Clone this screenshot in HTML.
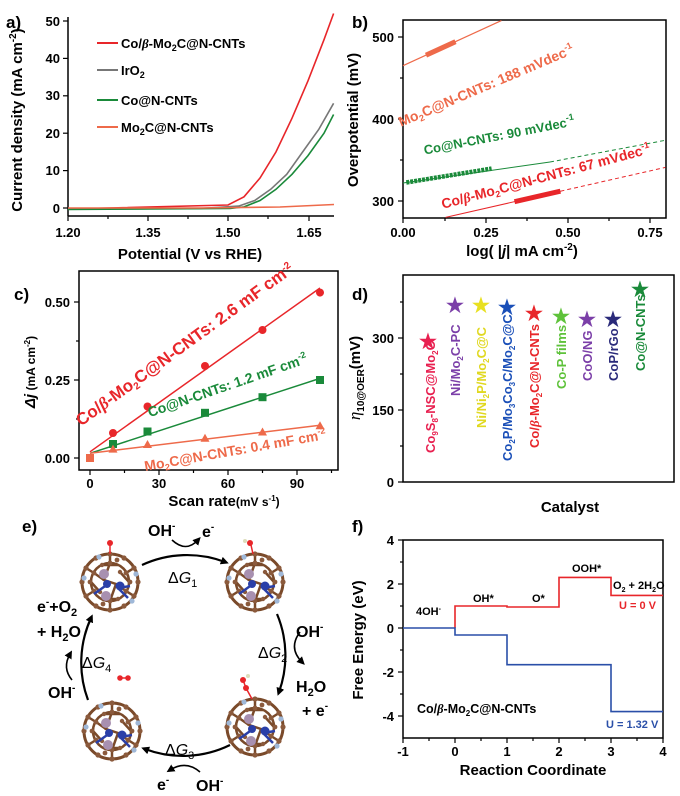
<!DOCTYPE html>
<html><head><meta charset="utf-8"><style>
html,body{margin:0;padding:0;background:#fff}
svg{display:block}
text{font-family:"Liberation Sans",sans-serif;font-weight:bold}
</style></head><body>
<svg width="680" height="796" viewBox="0 0 680 796" xmlns="http://www.w3.org/2000/svg">
<defs>
<g id="mol">
<circle r="28" fill="none" stroke="#7a4a2a" stroke-width="3"/>
<circle r="19" fill="none" stroke="#7a4a2a" stroke-width="2.5"/>
<path d="M0,-28 L0,-19 M24,-14 L16,-9 M24,14 L16,9 M0,28 L0,19 M-24,14 L-16,9 M-24,-14 L-16,-9 M-16,-9 L-6,-2 M16,9 L6,2 M0,-19 L-6,-2 L6,2 L0,19 M-19,0 L-10,10 M19,0 L10,-10 M-8,-17 L8,-17 M-8,17 L8,17" stroke="#7a4a2a" stroke-width="2.5" fill="none"/>
<g fill="#8b5a3c">
<circle cx="0" cy="-28" r="2.6"/><circle cx="14" cy="-24" r="2.6"/><circle cx="24" cy="-14" r="2.6"/><circle cx="28" cy="0" r="2.6"/><circle cx="24" cy="14" r="2.6"/><circle cx="14" cy="24" r="2.6"/><circle cx="0" cy="28" r="2.6"/><circle cx="-14" cy="24" r="2.6"/><circle cx="-24" cy="14" r="2.6"/><circle cx="-28" cy="0" r="2.6"/><circle cx="-24" cy="-14" r="2.6"/><circle cx="-14" cy="-24" r="2.6"/>
<circle cx="0" cy="-19" r="2.4"/><circle cx="16" cy="-9" r="2.4"/><circle cx="16" cy="9" r="2.4"/><circle cx="0" cy="19" r="2.4"/><circle cx="-16" cy="9" r="2.4"/><circle cx="-16" cy="-9" r="2.4"/>
<circle cx="7" cy="-22" r="2.4"/><circle cx="-7" cy="22" r="2.4"/><circle cx="20" cy="0" r="2.4"/><circle cx="-20" cy="0" r="2.4"/>
<circle cx="-10" cy="10" r="2.2"/><circle cx="10" cy="-10" r="2.2"/><circle cx="8" cy="17" r="2.2"/><circle cx="-8" cy="-17" r="2.2"/>
</g>
<g fill="#9fb8d8"><circle cx="-11" cy="-25" r="2.6"/><circle cx="26" cy="-8" r="2.6"/><circle cx="22" cy="19" r="2.6"/><circle cx="-26" cy="-4" r="2.6"/></g>
<path d="M-2,2 L-16,12 M8,6 L18,16 M8,6 L20,4" stroke="#2a3fa8" stroke-width="2.5"/>
<circle cx="-6" cy="-8" r="5" fill="#a890b0"/><circle cx="-4" cy="14" r="5" fill="#a890b0"/>
<circle cx="10" cy="4" r="4.5" fill="#2a3fa8"/><circle cx="-3" cy="2" r="4" fill="#2a3fa8"/>
</g>
<marker id="ah" markerWidth="8" markerHeight="8" refX="4" refY="4" orient="auto" markerUnits="userSpaceOnUse"><path d="M0,0 L8,4 L0,8 z" fill="#000"/></marker>
</defs>

<!-- ===== Panel a ===== -->
<text x="6" y="28" font-size="17">a)</text>
<line x1="68" y1="17" x2="68" y2="216" stroke="#000" stroke-width="1.5"/>
<line x1="68" y1="216" x2="334" y2="216" stroke="#000" stroke-width="1.5"/>
<g stroke="#000" stroke-width="1.2">
<line x1="63" y1="21" x2="68" y2="21"/><line x1="63" y1="58.4" x2="68" y2="58.4"/><line x1="63" y1="95.8" x2="68" y2="95.8"/><line x1="63" y1="133.2" x2="68" y2="133.2"/><line x1="63" y1="170.6" x2="68" y2="170.6"/><line x1="63" y1="208" x2="68" y2="208"/>
<line x1="68" y1="216" x2="68" y2="221"/><line x1="108" y1="216" x2="108" y2="219"/><line x1="148" y1="216" x2="148" y2="221"/><line x1="188" y1="216" x2="188" y2="219"/><line x1="228" y1="216" x2="228" y2="221"/><line x1="268" y1="216" x2="268" y2="219"/><line x1="309" y1="216" x2="309" y2="221"/>
</g>
<g font-size="13" text-anchor="end">
<text x="60" y="26">50</text><text x="60" y="63">40</text><text x="60" y="100">30</text><text x="60" y="138">20</text><text x="60" y="175">10</text><text x="60" y="213">0</text>
</g>
<g font-size="13" text-anchor="middle">
<text x="68" y="237">1.20</text><text x="148" y="237">1.35</text><text x="228" y="237">1.50</text><text x="309" y="237">1.65</text>
</g>
<text x="190" y="259" font-size="15" text-anchor="middle">Potential (V vs RHE)</text>
<text transform="translate(22,120) rotate(-90)" font-size="15" text-anchor="middle">Current density (mA cm<tspan font-size="10" dy="-6">-2</tspan><tspan dy="6">)</tspan></text>
<path d="M68,209 L228,205 L244,196.8 L260,178 L276,151.9 L292,118.2 L308,80.8 L324,39.7 L333.6,13.5" fill="none" stroke="#e8262a" stroke-width="1.6"/>
<path d="M68,209 L200,208.5 L238.7,206.1 L254.7,200.5 L270.7,189.3 L286.7,174.3 L302.7,151.9 L318.7,129.5 L333.6,103.3" fill="none" stroke="#777" stroke-width="1.6"/>
<path d="M68,209.5 L230,208.5 L244,206.9 L260,200.5 L276,189.3 L292,174.3 L308,155.6 L324,133.2 L333.6,114.5" fill="none" stroke="#1a8a3a" stroke-width="1.6"/>
<path d="M68,208 L200,208 L280,207 L334,204.5" fill="none" stroke="#ee6a4a" stroke-width="1.6"/>
<line x1="97" y1="43" x2="118" y2="43" stroke="#e8262a" stroke-width="2"/>
<line x1="97" y1="70" x2="118" y2="70" stroke="#777" stroke-width="2"/>
<line x1="97" y1="100" x2="118" y2="100" stroke="#1a8a3a" stroke-width="2"/>
<line x1="97" y1="127" x2="118" y2="127" stroke="#ee6a4a" stroke-width="2"/>
<g font-size="13">
<text x="121" y="48">Co/<tspan font-style="italic" font-family="Liberation Serif,serif">β</tspan>-Mo<tspan font-size="9" dy="3">2</tspan><tspan dy="-3">C@N-CNTs</tspan></text>
<text x="121" y="75">IrO<tspan font-size="9" dy="3">2</tspan></text>
<text x="121" y="105">Co@N-CNTs</text>
<text x="121" y="132">Mo<tspan font-size="9" dy="3">2</tspan><tspan dy="-3">C@N-CNTs</tspan></text>
</g>

<!-- ===== Panel b ===== -->
<text x="352" y="28" font-size="17">b)</text>
<rect x="403" y="20" width="263" height="198" fill="none" stroke="#000" stroke-width="1.5"/>
<g stroke="#000" stroke-width="1.2">
<line x1="398" y1="37" x2="403" y2="37"/><line x1="400" y1="78" x2="403" y2="78"/><line x1="398" y1="119" x2="403" y2="119"/><line x1="400" y1="160" x2="403" y2="160"/><line x1="398" y1="201" x2="403" y2="201"/>
<line x1="403" y1="218" x2="403" y2="223"/><line x1="445" y1="218" x2="445" y2="221"/><line x1="486" y1="218" x2="486" y2="223"/><line x1="527" y1="218" x2="527" y2="221"/><line x1="568" y1="218" x2="568" y2="223"/><line x1="609" y1="218" x2="609" y2="221"/><line x1="650" y1="218" x2="650" y2="223"/>
</g>
<g font-size="13" text-anchor="end"><text x="394" y="42">500</text><text x="394" y="124">400</text><text x="394" y="206">300</text></g>
<g font-size="13" text-anchor="middle"><text x="403" y="237">0.00</text><text x="486" y="237">0.25</text><text x="568" y="237">0.50</text><text x="650" y="237">0.75</text></g>
<text x="522" y="256" font-size="15" text-anchor="middle">log( |<tspan font-style="italic">j</tspan>| mA cm<tspan font-size="10" dy="-6">-2</tspan><tspan dy="6">)</tspan></text>
<text transform="translate(358,120) rotate(-90)" font-size="15" text-anchor="middle">Overpotential (mV)</text>
<line x1="403" y1="65.7" x2="501.4" y2="20.6" stroke="#ee6a4a" stroke-width="1.2"/>
<line x1="426" y1="55.2" x2="455.5" y2="41.7" stroke="#ee6a4a" stroke-width="5"/>
<line x1="403" y1="183" x2="550" y2="162" stroke="#1a8a3a" stroke-width="1"/>
<line x1="550" y1="162" x2="665.4" y2="140.3" stroke="#1a8a3a" stroke-width="1" stroke-dasharray="4,3"/>
<line x1="406.3" y1="182.5" x2="491.6" y2="168.6" stroke="#1a8a3a" stroke-width="4.5" stroke-dasharray="3,1"/>
<line x1="445.6" y1="217.4" x2="560.4" y2="191.2" stroke="#e8262a" stroke-width="1"/>
<line x1="560.4" y1="191.2" x2="665.4" y2="167.4" stroke="#e8262a" stroke-width="1" stroke-dasharray="4,3"/>
<line x1="514.5" y1="201.7" x2="560.4" y2="191.2" stroke="#e8262a" stroke-width="5"/>
<text transform="translate(488,90) rotate(-23)" font-size="14" fill="#ee6a4a" text-anchor="middle">Mo<tspan font-size="9" dy="3">2</tspan><tspan dy="-3">C@N-CNTs: 188 mVdec</tspan><tspan font-size="9" dy="-6">-1</tspan></text>
<text transform="translate(500,140) rotate(-11)" font-size="13" fill="#1a8a3a" text-anchor="middle">Co@N-CNTs: 90 mVdec<tspan font-size="9" dy="-6">-1</tspan></text>
<text transform="translate(547,181) rotate(-15)" font-size="14" fill="#e8262a" text-anchor="middle">Co/<tspan font-style="italic" font-family="Liberation Serif,serif">β</tspan>-Mo<tspan font-size="9" dy="3">2</tspan><tspan dy="-3">C@N-CNTs: 67 mVdec</tspan><tspan font-size="9" dy="-6">-1</tspan></text>

<!-- ===== Panel c ===== -->
<text x="14" y="300" font-size="17">c)</text>
<rect x="79" y="271" width="259" height="199" fill="none" stroke="#000" stroke-width="1.5"/>
<g stroke="#000" stroke-width="1.2">
<line x1="74" y1="302" x2="79" y2="302"/><line x1="76" y1="341" x2="79" y2="341"/><line x1="74" y1="380" x2="79" y2="380"/><line x1="76" y1="419" x2="79" y2="419"/><line x1="74" y1="458" x2="79" y2="458"/>
<line x1="90" y1="470" x2="90" y2="475"/><line x1="124.5" y1="470" x2="124.5" y2="473"/><line x1="159" y1="470" x2="159" y2="475"/><line x1="193.5" y1="470" x2="193.5" y2="473"/><line x1="228" y1="470" x2="228" y2="475"/><line x1="262.5" y1="470" x2="262.5" y2="473"/><line x1="297" y1="470" x2="297" y2="475"/><line x1="331.5" y1="470" x2="331.5" y2="473"/>
</g>
<g font-size="13" text-anchor="end"><text x="70" y="307">0.50</text><text x="70" y="385">0.25</text><text x="70" y="463">0.00</text></g>
<g font-size="13" text-anchor="middle"><text x="90" y="488">0</text><text x="159" y="488">30</text><text x="228" y="488">60</text><text x="297" y="488">90</text></g>
<text x="224" y="506" font-size="15" text-anchor="middle">Scan rate<tspan font-size="12">(mV s<tspan font-size="8" dy="-5">-1</tspan><tspan dy="5">)</tspan></tspan></text>
<text transform="translate(35,372) rotate(-90)" font-size="15" text-anchor="middle"><tspan font-style="italic">Δj</tspan><tspan font-size="12"> (mA cm<tspan font-size="8" dy="-5">-2</tspan><tspan dy="5">)</tspan></tspan></text>
<line x1="90" y1="451.8" x2="320" y2="288" stroke="#e8262a" stroke-width="1.5"/>
<line x1="90" y1="453.3" x2="320" y2="378.4" stroke="#1a8a3a" stroke-width="1.5"/>
<line x1="90" y1="453.3" x2="320" y2="425.2" stroke="#ee6a4a" stroke-width="1.5"/>
<g fill="#e8262a"><circle cx="113" cy="433" r="4"/><circle cx="147.5" cy="406.5" r="4"/><circle cx="205" cy="366" r="4"/><circle cx="262.5" cy="330" r="4"/><circle cx="320" cy="292.6" r="4"/></g>
<g fill="#1a8a3a"><rect x="109" y="440" width="8" height="8"/><rect x="143.5" y="427.5" width="8" height="8"/><rect x="201" y="408.8" width="8" height="8"/><rect x="258.5" y="393.2" width="8" height="8"/><rect x="316" y="376" width="8" height="8"/></g>
<g fill="#ee6a4a"><rect x="86" y="454" width="8" height="8"/><path d="M113,444.6 l4.5,8 h-9z M147.5,440 l4.5,8 h-9z M205,433.7 l4.5,8 h-9z M262.5,427.5 l4.5,8 h-9z M320,421.2 l4.5,8 h-9z"/></g>
<text transform="translate(188,349) rotate(-36)" font-size="17" fill="#e8262a" text-anchor="middle">Co/<tspan font-style="italic" font-family="Liberation Serif,serif">β</tspan>-Mo<tspan font-size="10" dy="3">2</tspan><tspan dy="-3">C@N-CNTs: 2.6 mF cm</tspan><tspan font-size="10" dy="-6">-2</tspan></text>
<text transform="translate(229,390) rotate(-19)" font-size="14" fill="#1a8a3a" text-anchor="middle">Co@N-CNTs: 1.2 mF cm<tspan font-size="9" dy="-6">-2</tspan></text>
<text transform="translate(236,455) rotate(-10)" font-size="14" fill="#ee6a4a" text-anchor="middle">Mo<tspan font-size="9" dy="3">2</tspan><tspan dy="-3">C@N-CNTs: 0.4 mF cm</tspan><tspan font-size="9" dy="-6">-2</tspan></text>

<!-- ===== Panel d ===== -->
<text x="352" y="300" font-size="17">d)</text>
<rect x="403" y="275" width="271" height="207" fill="none" stroke="#000" stroke-width="1.5"/>
<g stroke="#000" stroke-width="1.2">
<line x1="398" y1="338" x2="403" y2="338"/><line x1="400" y1="302" x2="403" y2="302"/><line x1="400" y1="374" x2="403" y2="374"/><line x1="398" y1="410" x2="403" y2="410"/><line x1="400" y1="446" x2="403" y2="446"/><line x1="398" y1="482" x2="403" y2="482"/>
</g>
<g font-size="13" text-anchor="end"><text x="394" y="343">300</text><text x="394" y="415">150</text><text x="394" y="487">0</text></g>
<text x="570" y="512" font-size="15" text-anchor="middle">Catalyst</text>
<text transform="translate(360,378) rotate(-90)" font-size="17" text-anchor="middle"><tspan font-style="italic" font-family="Liberation Serif,serif" font-weight="normal">η</tspan><tspan font-size="10" dy="4">10@OER</tspan><tspan dy="-4" font-size="15">(mV)</tspan></text>
<g font-size="20" text-anchor="middle">
<text x="428" y="348" fill="#e82050">★</text>
<text x="455" y="312" fill="#7b3fa8">★</text>
<text x="481" y="312" fill="#e8e020">★</text>
<text x="507" y="314" fill="#1a4fb8">★</text>
<text x="534" y="320" fill="#e8262a">★</text>
<text x="561" y="323" fill="#5ec23a">★</text>
<text x="587" y="326" fill="#7b3fa8">★</text>
<text x="613" y="326" fill="#2a2a7a">★</text>
<text x="640" y="296" fill="#1a8a3a">★</text>
</g>
<g font-size="13">
<text transform="translate(435,453) rotate(-90)" fill="#e82050">Co<tspan font-size="8" dy="3">9</tspan><tspan dy="-3">S</tspan><tspan font-size="8" dy="3">8</tspan><tspan dy="-3">-NSC@Mo</tspan><tspan font-size="8" dy="3">2</tspan><tspan dy="-3">C</tspan></text>
<text transform="translate(460,396) rotate(-90)" fill="#7b3fa8">Ni/Mo<tspan font-size="8" dy="3">2</tspan><tspan dy="-3">C-PC</tspan></text>
<text transform="translate(486,428) rotate(-90)" fill="#e0d820">Ni/Ni<tspan font-size="8" dy="3">2</tspan><tspan dy="-3">P/Mo</tspan><tspan font-size="8" dy="3">2</tspan><tspan dy="-3">C@C</tspan></text>
<text transform="translate(512,461) rotate(-90)" fill="#1a4fb8">Co<tspan font-size="8" dy="3">2</tspan><tspan dy="-3">P/Mo</tspan><tspan font-size="8" dy="3">3</tspan><tspan dy="-3">Co</tspan><tspan font-size="8" dy="3">3</tspan><tspan dy="-3">C/Mo</tspan><tspan font-size="8" dy="3">2</tspan><tspan dy="-3">C@C</tspan></text>
<text transform="translate(539,448) rotate(-90)" fill="#e8262a">Co/<tspan font-style="italic" font-family="Liberation Serif,serif">β</tspan>-Mo<tspan font-size="8" dy="3">2</tspan><tspan dy="-3">C@N-CNTs</tspan></text>
<text transform="translate(566,389) rotate(-90)" fill="#5ec23a">Co-P films</text>
<text transform="translate(592,381) rotate(-90)" fill="#7b3fa8">CoO/NG</text>
<text transform="translate(618,381) rotate(-90)" fill="#2a2a7a">CoP/rGo</text>
<text transform="translate(645,371) rotate(-90)" fill="#1a8a3a">Co@N-CNTs</text>
</g>

<!-- ===== Panel e ===== -->
<text x="22" y="532" font-size="17">e)</text>
<use href="#mol" x="110" y="582"/>
<use href="#mol" x="255" y="582"/>
<use href="#mol" x="255" y="727"/>
<use href="#mol" x="112" y="731"/>
<line x1="110" y1="554" x2="110" y2="545" stroke="#e8262a" stroke-width="1.5"/><circle cx="110" cy="543" r="3" fill="#e8262a"/>
<line x1="253" y1="554" x2="251" y2="545" stroke="#e8262a" stroke-width="1.5"/><circle cx="250" cy="543" r="3" fill="#e8262a"/><circle cx="245" cy="541" r="2" fill="#ddb"/>
<path d="M252,699 L246,688 L243,680" stroke="#e8262a" stroke-width="1.5" fill="none"/><circle cx="246" cy="688" r="3" fill="#e8262a"/><circle cx="243" cy="680" r="3" fill="#e8262a"/><circle cx="248" cy="676" r="2" fill="#ddb"/>
<circle cx="120" cy="678" r="2.8" fill="#e8262a"/><circle cx="128" cy="678" r="2.8" fill="#e8262a"/><line x1="120" y1="678" x2="128" y2="678" stroke="#e8262a" stroke-width="1.5"/>
<g fill="none" stroke="#000" stroke-width="2.2">
<path d="M142,565 A107,107 0 0 1 225,562" marker-end="url(#ah)"/>
<path d="M277,614 A107,107 0 0 1 279,692" marker-end="url(#ah)"/>
<path d="M230,745 A107,107 0 0 1 145,749" marker-end="url(#ah)"/>
<path d="M88,700 A107,107 0 0 1 91,618" marker-end="url(#ah)"/>
</g>
<g fill="none" stroke="#000" stroke-width="1.6">
<path d="M172,540 Q186,553 198,540" marker-end="url(#ah)"/>
<path d="M300,632 Q288,648 302,662" marker-end="url(#ah)"/>
<path d="M200,772 Q186,760 170,770" marker-end="url(#ah)"/>
<path d="M72,680 Q62,668 70,654" marker-end="url(#ah)"/>
</g>
<g font-size="16">
<text x="148" y="536">OH<tspan font-size="10" dy="-7">-</tspan></text>
<text x="202" y="537">e<tspan font-size="10" dy="-7">-</tspan></text>
<text x="296" y="637">OH<tspan font-size="10" dy="-7">-</tspan></text>
<text x="296" y="692">H<tspan font-size="11" dy="4">2</tspan><tspan dy="-4">O</tspan></text>
<text x="302" y="716">+ e<tspan font-size="10" dy="-7">-</tspan></text>
<text x="196" y="791">OH<tspan font-size="10" dy="-7">-</tspan></text>
<text x="157" y="790">e<tspan font-size="10" dy="-7">-</tspan></text>
<text x="48" y="698">OH<tspan font-size="10" dy="-7">-</tspan></text>
<text x="37" y="612">e<tspan font-size="10" dy="-7">-</tspan><tspan dy="7">+O</tspan><tspan font-size="11" dy="4">2</tspan></text>
<text x="37" y="637">+ H<tspan font-size="11" dy="4">2</tspan><tspan dy="-4">O</tspan></text>
</g>
<g font-size="16">
<text x="168" y="583" style="font-weight:normal">Δ<tspan font-style="italic">G</tspan><tspan font-size="11" dy="4">1</tspan></text>
<text x="258" y="658" style="font-weight:normal">Δ<tspan font-style="italic">G</tspan><tspan font-size="11" dy="4">2</tspan></text>
<text x="165" y="755" style="font-weight:normal">Δ<tspan font-style="italic">G</tspan><tspan font-size="11" dy="4">3</tspan></text>
<text x="82" y="668" style="font-weight:normal">Δ<tspan font-style="italic">G</tspan><tspan font-size="11" dy="4">4</tspan></text>
</g>

<!-- ===== Panel f ===== -->
<text x="352" y="532" font-size="17">f)</text>
<rect x="403" y="540" width="260" height="198" fill="none" stroke="#000" stroke-width="1.5"/>
<g stroke="#000" stroke-width="1.2">
<line x1="398" y1="540" x2="403" y2="540"/><line x1="400" y1="562" x2="403" y2="562"/><line x1="398" y1="584" x2="403" y2="584"/><line x1="400" y1="606" x2="403" y2="606"/><line x1="398" y1="628" x2="403" y2="628"/><line x1="400" y1="650" x2="403" y2="650"/><line x1="398" y1="672" x2="403" y2="672"/><line x1="400" y1="694" x2="403" y2="694"/><line x1="398" y1="716" x2="403" y2="716"/>
<line x1="403" y1="738" x2="403" y2="743"/><line x1="429" y1="738" x2="429" y2="741"/><line x1="455" y1="738" x2="455" y2="743"/><line x1="481" y1="738" x2="481" y2="741"/><line x1="507" y1="738" x2="507" y2="743"/><line x1="533" y1="738" x2="533" y2="741"/><line x1="559" y1="738" x2="559" y2="743"/><line x1="585" y1="738" x2="585" y2="741"/><line x1="611" y1="738" x2="611" y2="743"/><line x1="637" y1="738" x2="637" y2="741"/><line x1="663" y1="738" x2="663" y2="743"/>
</g>
<g font-size="13" text-anchor="end"><text x="394" y="545">4</text><text x="394" y="589">2</text><text x="394" y="633">0</text><text x="394" y="677">-2</text><text x="394" y="721">-4</text></g>
<g font-size="13" text-anchor="middle"><text x="403" y="756">-1</text><text x="455" y="756">0</text><text x="507" y="756">1</text><text x="559" y="756">2</text><text x="611" y="756">3</text><text x="663" y="756">4</text></g>
<text x="533" y="775" font-size="15" text-anchor="middle">Reaction Coordinate</text>
<text transform="translate(363,640) rotate(-90)" font-size="15" text-anchor="middle">Free Energy (eV)</text>
<path d="M455,628 L455,606 L507,606 L507,607 L559,607 L559,577.4 L611,577.4 L611,595.4 L663,595.4" fill="none" stroke="#e8262a" stroke-width="1.6"/>
<path d="M403,628 L455,628 L455,635 L507,635 L507,664.7 L611,664.7 L611,711.6 L663,711.6" fill="none" stroke="#2a4fa8" stroke-width="1.6"/>
<g font-size="11">
<text x="416" y="615">4OH<tspan font-size="7" dy="-4">-</tspan></text>
<text x="473" y="602">OH*</text>
<text x="532" y="602">O*</text>
<text x="572" y="572">OOH*</text>
<text x="613" y="589">O<tspan font-size="7" dy="3">2</tspan><tspan dy="-3"> + 2H</tspan><tspan font-size="7" dy="3">2</tspan><tspan dy="-3">O</tspan></text>
<text x="619" y="609" fill="#e8262a">U = 0 V</text>
<text x="606" y="728" fill="#2a4fa8">U = 1.32 V</text>
<text x="417" y="713" font-size="12.5">Co/<tspan font-style="italic" font-family="Liberation Serif,serif">β</tspan>-Mo<tspan font-size="8" dy="3">2</tspan><tspan dy="-3">C@N-CNTs</tspan></text>
</g>
</svg>
</body></html>
